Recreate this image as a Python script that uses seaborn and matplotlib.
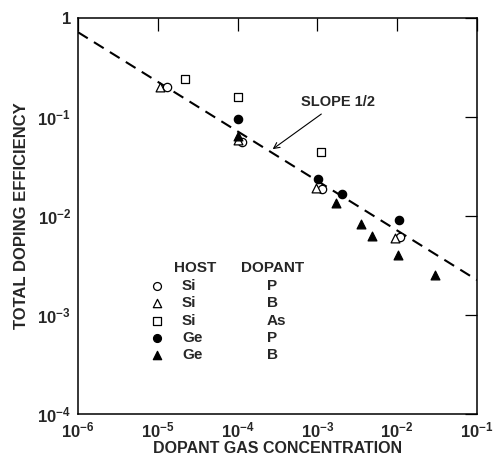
import numpy as np
import pandas as pd
import matplotlib
matplotlib.use("Agg")
import matplotlib.pyplot as plt
import seaborn as sns

# Data
si_p_x = [1.3e-5, 1.15e-4, 1.15e-3, 1.07e-2]
si_p_y = [0.197, 0.056, 0.0186, 0.0061]
si_b_x = [1.07e-5, 1.0e-4, 9.5e-4, 9.3e-3]
si_b_y = [0.200, 0.058, 0.019, 0.006]
si_as_x = [2.2e-5, 1.0e-4, 1.1e-3]
si_as_y = [0.24, 0.157, 0.044]
ge_p_x = [1.0e-4, 1.03e-3, 2.05e-3, 1.05e-2]
ge_p_y = [0.094, 0.0237, 0.0165, 0.0091]
ge_b_x = [1.0e-4, 1.7e-3, 3.5e-3, 4.9e-3, 1.02e-2, 2.95e-2]
ge_b_y = [0.064, 0.0135, 0.0083, 0.0063, 0.0040, 0.0025]

# slope 1/2 reference line
line_x = [1e-6, 1e-1]
line_y = [0.71, 0.71 * 10 ** -2.5]

hosts = ["Si", "Si", "Si", "Ge", "Ge"]
dopants = ["P", "B", "As", "P", "B"]

x_ticks = [1e-6, 1e-5, 1e-4, 1e-3, 1e-2, 1e-1]
x_labels = ["$10^{-6}$", "$10^{-5}$", "$10^{-4}$", "$10^{-3}$", "$10^{-2}$", "$10^{-1}$"]
y_ticks = [1e-4, 1e-3, 1e-2, 1e-1, 1]
y_labels = ["$10^{-4}$", "$10^{-3}$", "$10^{-2}$", "$10^{-1}$", "1"]

sns.set_theme(style="white")
plt.rcParams["font.family"] = ["Liberation Sans", "DejaVu Sans"]
plt.rcParams["font.weight"] = "bold"
plt.rcParams["mathtext.fontset"] = "custom"
plt.rcParams["mathtext.rm"] = "Liberation Sans:bold"
plt.rcParams["mathtext.it"] = "Liberation Sans:bold"
plt.rcParams["mathtext.bf"] = "Liberation Sans:bold"

fig = plt.figure(figsize=(4.95, 4.57), dpi=100)
ax = fig.add_axes([0.1576, 0.0941, 0.806, 0.8676])

# dashed line
sns.lineplot(x=line_x, y=line_y, ax=ax, color="black", linewidth=1.5,
             dashes=False, linestyle=(0, (5.5, 3.5)))

groups = [
    (si_p_x, si_p_y, "o", "white"),
    (si_b_x, si_b_y, "^", "white"),
    (si_as_x, si_as_y, "s", "white"),
    (ge_p_x, ge_p_y, "o", "black"),
    (ge_b_x, ge_b_y, "^", "black"),
]
sizes = {"o": 36, "^": 40, "s": 30}
for gx, gy, m, fc in groups:
    df = pd.DataFrame({"x": gx, "y": gy})
    sns.scatterplot(data=df, x="x", y="y", ax=ax, marker=m, color=fc,
                    edgecolor="black", linewidth=0.9, s=sizes[m], zorder=3)

ax.set_xscale("log")
ax.set_yscale("log")
ax.set_xlim(1e-6, 1e-1)
ax.set_ylim(1e-4, 1)
ax.set_xticks(x_ticks)
ax.set_xticklabels(x_labels)
ax.set_yticks(y_ticks)
ax.set_yticklabels(y_labels)
ax.minorticks_off()
ax.tick_params(which="major", direction="in", length=9, width=0.9,
               top=True, right=True, labelsize=12, pad=5, color="black")
for s in ax.spines.values():
    s.set_linewidth(1.1)
    s.set_color("black")

ax.set_xlabel("DOPANT GAS CONCENTRATION", fontsize=11.5, fontweight="bold", labelpad=0)
ax.set_ylabel("TOTAL DOPING EFFICIENCY", fontsize=12, fontweight="bold", labelpad=6)

# slope annotation
ax.annotate("SLOPE 1/2", xy=(2.75e-4, 0.047), xytext=(6.2e-4, 0.14),
            fontsize=10.5, fontweight="bold", va="center", ha="left",
            arrowprops=dict(arrowstyle="->", color="black", lw=0.8,
                            shrinkA=2, shrinkB=0))

# legend drawn as a small table
tr = ax.transAxes
def fx(px):
    return (px - 78) / 399.0
def fy(py):
    return (414 - py) / 396.5

ax.text(fx(174), fy(268), "HOST", transform=tr, fontsize=11, fontweight="bold", va="center")
ax.text(fx(241), fy(268), "DOPANT", transform=tr, fontsize=11, fontweight="bold", va="center")
row_y = [286, 303, 321, 338, 355]
for i, (h, d) in enumerate(zip(hosts, dopants)):
    _, _, m, fc = groups[i]
    ax.scatter([fx(157)], [fy(row_y[i])], transform=tr, marker=m, s=sizes[m] * 0.9,
               facecolor=fc, edgecolor="black", linewidth=0.9, clip_on=False)
    ax.text(fx(182), fy(row_y[i]), h, transform=tr, fontsize=11, fontweight="bold", va="center")
    ax.text(fx(267), fy(row_y[i]), d, transform=tr, fontsize=11, fontweight="bold", va="center")

fig.savefig("out.png", dpi=100)
